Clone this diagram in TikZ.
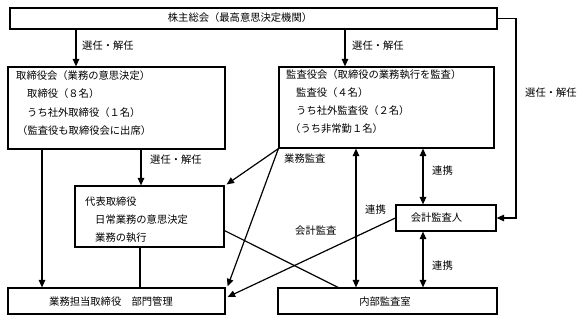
\documentclass[tikz,border=0pt]{standalone}
\usepackage{fontspec}
\setmainfont{Noto Sans CJK JP}
\usetikzlibrary{arrows.meta,calc}
\begin{document}
\begin{tikzpicture}[x=1pt,y=-1pt,
  box/.style={draw,line width=1.2pt,rectangle,inner sep=0pt},
  txt/.style={inner sep=0pt,anchor=west,font=\fontsize{10.3}{12}\selectfont},
  ctxt/.style={inner sep=0pt,font=\fontsize{10.3}{12}\selectfont},
  ln/.style={line width=1.2pt},
  arr/.style={line width=1.2pt,-{Triangle[length=7.5pt,width=6.5pt]}},
  darr/.style={line width=1.2pt,{Triangle[length=7.5pt,width=6.5pt]}-{Triangle[length=7.5pt,width=6.5pt]}}]
\useasboundingbox (0,0) rectangle (585,322);
\fill[white] (0,0) rectangle (585,322);
% boxes
\node[box,minimum width=487pt,minimum height=21pt] (sh) at (253.5,18.5) {};
\node[box,minimum width=217pt,minimum height=82pt] (tb) at (116.5,108) {};
\node[box,minimum width=215pt,minimum height=81pt] (kb) at (386.5,107.5) {};
\node[box,minimum width=149pt,minimum height=61pt] (dh) at (149.5,216.5) {};
\node[box,minimum width=217pt,minimum height=26pt] (gt) at (116.5,301) {};
\node[box,minimum width=219pt,minimum height=26pt] (nb) at (387.5,301) {};
\node[box,minimum width=100pt,minimum height=26pt] (ka) at (446,218) {};
% texts
\node[ctxt] (tsh) at (240,18) {株主総会（最高意思決定機関）};
\node[txt] (t1) at (16,76) {取締役会（業務の意思決定）};
\node[txt] (t2) at (27,94) {取締役（８名）};
\node[txt] (t3) at (27,113) {うち社外取締役（１名）};
\node[txt] (t4) at (17,131) {（監査役も取締役会に出席）};
\node[txt] (k1) at (286,75) {監査役会（取締役の業務執行を監査）};
\node[txt] (k2) at (296,93) {監査役（４名）};
\node[txt] (k3) at (296,111) {うち社外監査役（２名）};
\node[txt] (k4) at (290,129) {（うち非常勤１名）};
\node[txt] (d1) at (85,202) {代表取締役};
\node[txt] (d2) at (95,220) {日常業務の意思決定};
\node[txt] (d3) at (95,238) {業務の執行};
\node[ctxt] (tgt) at (111,302) {業務担当取締役　部門管理};
\node[ctxt] (tnb) at (385,302) {内部監査室};
\node[ctxt] (tka) at (436.5,218) {会計監査人};
% labels
\node[txt] (l1) at (82,46) {選任・解任};
\node[txt] (l2) at (352,46) {選任・解任};
\node[txt] (l3) at (150,160) {選任・解任};
\node[txt] (l4) at (525,93) {選任・解任};
\node[txt] (l5) at (284,159) {業務監査};
\node[txt] (l6) at (295,231) {会計監査};
\node[txt] (l7) at (365,210) {連携};
\node[txt] (l8) at (432,171) {連携};
\node[txt] (l9) at (432,266) {連携};
% helper coordinates
\coordinate (x42) at (42,0);
\coordinate (x76) at (76,0);
\coordinate (x140) at (140,0);
\coordinate (x141) at (141,0);
\coordinate (x338) at (338,0);
\coordinate (x345) at (345,0);
\coordinate (x356) at (356,0);
\coordinate (x423) at (423,0);
\coordinate (x516) at (516,0);
% connectors
\draw[arr] (sh.south -| x76) -- (tb.north -| x76);
\draw[arr] (sh.south -| x345) -- (kb.north -| x345);
\draw[arr] (sh.east) -| (x516 |- ka.east) -- (ka.east);
\draw[arr] (tb.south -| x141) -- (dh.north -| x141);
\draw[arr] (tb.south -| x42) -- (gt.north -| x42);
\draw[ln] (dh.south -| x140) -- (gt.north -| x140);
\draw[arr] (kb.south west) -- ($(dh.north east)+(2,-1)$);
\draw[arr] (kb.south west) -- ($(gt.north east)+(2,-1)$);
\draw[arr] (ka.west) -- ($(gt.east)+(2,-4)$);
\draw[ln] ($(dh.south east)+(0,-17)$) -- (nb.north -| x338);
\draw[darr] (kb.south -| x356) -- (nb.north -| x356);
\draw[darr] (kb.south -| x423) -- (ka.north -| x423);
\draw[darr] (ka.south -| x423) -- (nb.north -| x423);
\end{tikzpicture}
\end{document}
